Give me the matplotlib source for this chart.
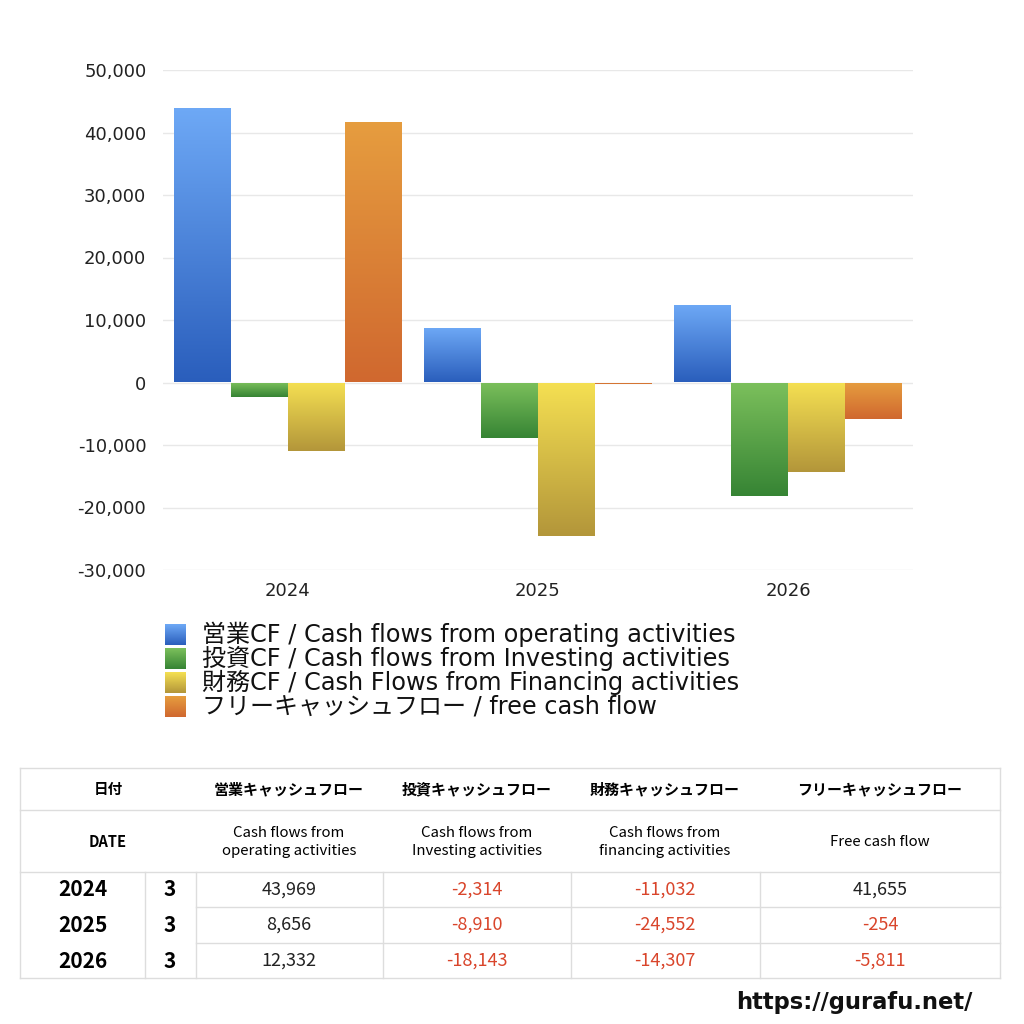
import matplotlib
matplotlib.use('Agg')
import matplotlib.pyplot as plt
import numpy as np
from matplotlib.colors import LinearSegmentedColormap
from matplotlib.lines import Line2D
from matplotlib.ticker import FuncFormatter

plt.rcParams['font.family'] = ['DejaVu Sans', 'Noto Sans CJK JP']
TBL = ['Noto Sans CJK JP', 'DejaVu Sans']

# data
years = ['2024', '2025', '2026']
months = ['3', '3', '3']
operating = [43969, 8656, 12332]
investing = [-2314, -8910, -18143]
financing = [-11032, -24552, -14307]
free_cf = [41655, -254, -5811]

series_labels = [
    '営業CF / Cash flows from operating activities',
    '投資CF / Cash flows from Investing activities',
    '財務CF / Cash Flows from Financing activities',
    'フリーキャッシュフロー / free cash flow',
]
head_jp = ['営業キャッシュフロー', '投資キャッシュフロー', '財務キャッシュフロー', 'フリーキャッシュフロー']
head_en = ['Cash flows from\noperating activities', 'Cash flows from\nInvesting activities',
           'Cash flows from\nfinancing activities', 'Free cash flow']

# gradient colours (top, bottom)
grads = [('#6ea9f6', '#2a5ebc'), ('#7cc05c', '#368434'),
         ('#f5e052', '#b3963a'), ('#e69d3f', '#d0682f')]

W = H = 1024
fig = plt.figure(figsize=(10.24, 10.24), dpi=100)
ax = fig.add_axes([163 / W, 1 - 570 / H, 750 / W, 500 / H])

values = [operating, investing, financing, free_cf]
x = np.arange(len(years))
bw = 0.228
for i, vals in enumerate(values):
    cmap = LinearSegmentedColormap.from_list('g%d' % i, list(grads[i]))
    bars = ax.bar(x + (i - 1.5) * bw, vals, bw, facecolor='none', edgecolor='none')
    for p in bars.patches:
        x0, y0 = p.get_x(), p.get_y()
        y1 = y0 + p.get_height()
        grad = np.linspace(0, 1, 256).reshape(-1, 1)
        im = ax.imshow(grad, cmap=cmap, aspect='auto', origin='upper',
                       extent=[x0, x0 + p.get_width(), min(y0, y1), max(y0, y1)],
                       zorder=2)
        im.set_clip_path(p)

ax.set_xlim(-0.5, 2.5)
ax.set_ylim(-30000, 50000)
ax.set_yticks(np.arange(-30000, 50001, 10000))
ax.yaxis.set_major_formatter(FuncFormatter(lambda v, pos: f'{int(v):,}'))
ax.set_xticks(x)
ax.set_xticklabels(years)
ax.grid(axis='y', color='#e8e8e8', linewidth=1)
ax.set_axisbelow(True)
for s in ax.spines.values():
    s.set_visible(False)
ax.tick_params(length=0, labelsize=13, labelcolor='#222222', pad=12)
ax.tick_params(axis='x', pad=9)

# legend
for i, lab in enumerate(series_labels):
    yc = 634 + i * 24
    lax = fig.add_axes([165 / W, 1 - (yc + 11) / H, 21 / W, 21 / H])
    cmap = LinearSegmentedColormap.from_list('l%d' % i, list(grads[i]))
    lax.imshow(np.linspace(0, 1, 64).reshape(-1, 1), cmap=cmap, aspect='auto')
    lax.axis('off')
    fig.text(202 / W, 1 - yc / H, lab, fontsize=17.3, va='center', ha='left', color='#111111')

# table
lc = '#dddddd'
def hline(y, x0=20, x1=1000):
    fig.add_artist(Line2D([x0 / W, x1 / W], [1 - y / H, 1 - y / H], color=lc, lw=1))
def vline(x, y0, y1):
    fig.add_artist(Line2D([x / W, x / W], [1 - y0 / H, 1 - y1 / H], color=lc, lw=1))

for y in [768, 810, 872, 978]:
    hline(y)
for y in [907, 943]:
    hline(y, 196, 1000)
vline(20, 768, 978)
vline(1000, 768, 978)
for xv in [145, 196, 383, 571, 760]:
    vline(xv, 872, 978)

col_c = [289, 477, 665, 880]
fig.text(108 / W, 1 - 789 / H, '日付', fontsize=10.5, weight='bold', ha='center', va='center', family=TBL)
fig.text(108 / W, 1 - 842 / H, 'DATE', fontsize=10.5, weight='bold', ha='center', va='center', family=TBL)
for c, hj, he in zip(col_c, head_jp, head_en):
    fig.text(c / W, 1 - 789 / H, hj, fontsize=10.8, weight='bold', ha='center', va='center', family=TBL)
    fig.text(c / W, 1 - 842 / H, he, fontsize=10.8, ha='center', va='center', linespacing=1.35, family=TBL)

row_y = [890, 925, 961]
for r, (yr, mo) in enumerate(zip(years, months)):
    yy = 1 - row_y[r] / H
    fig.text(83 / W, yy, yr, fontsize=15, weight='bold', ha='center', va='center', family=TBL)
    fig.text(170 / W, yy, mo, fontsize=15, weight='bold', ha='center', va='center', family=TBL)
    for c, vals in zip(col_c, values):
        v = vals[r]
        fig.text(c / W, yy, f'{v:,}', fontsize=13, ha='center', va='center', family=TBL,
                 color='#d9452b' if v < 0 else '#222222')

fig.text(972 / W, 1 - 1003 / H, 'https://gurafu.net/', fontsize=16.3, ha='right', va='center',
         color='#111111', weight='bold')

fig.savefig('out.png', dpi=100, facecolor='white')
